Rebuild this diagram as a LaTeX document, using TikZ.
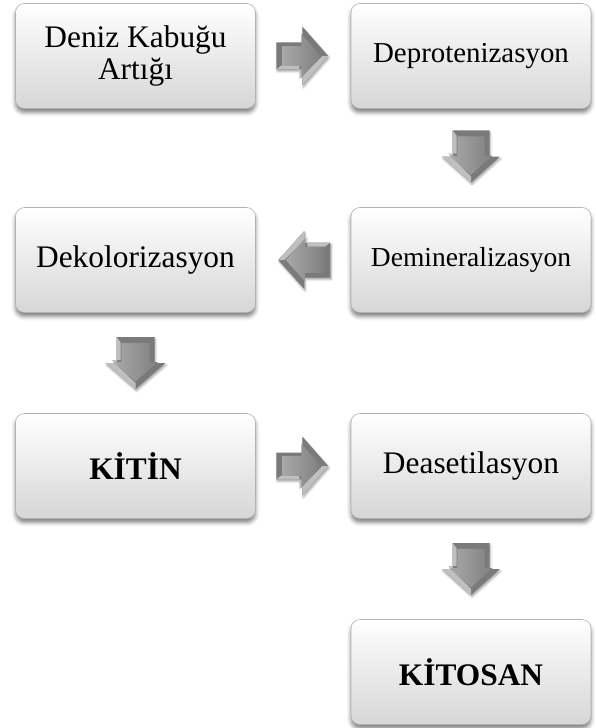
\documentclass[tikz,border=0pt]{standalone}
\usepackage{fontspec}
\setmainfont{Liberation Serif}
\usetikzlibrary{calc,shadows,shadows.blur}
\newcommand{\blockarr}[4]{%
  \begin{scope}[shift={#1}, rotate=#2]
    \fill[arrowout] (-26,-#3) -- (0,-#3) -- (0,-#4) -- (26,0) -- (0,#4) -- (0,#3) -- (-26,#3) -- cycle;
    \fill[arrowlight] (-26,#3) -- (0,#3) -- (0,#4) -- (26,0) -- (20,0) -- (-3,#4-6) -- (-3,#3-4) -- (-21,#3-4) -- cycle;
    \begin{scope}[xshift=-3bp, scale=0.74, xshift=3bp]
      \shade[arrowin] (-26,-#3) -- (0,-#3) -- (0,-#4) -- (26,0) -- (0,#4) -- (0,#3) -- (-26,#3) -- cycle;
    \end{scope}
  \end{scope}}
\begin{document}
\begin{tikzpicture}[x=1bp,y=-1bp,
  box/.style={draw=gray!60, line width=0.6bp, rounded corners=9bp,
    minimum width=240bp, minimum height=105bp,
    top color=white, bottom color=black!16, align=center, inner sep=0pt,
    font=\fontsize{31.5}{33}\selectfont,
    blur shadow={shadow xshift=0bp, shadow yshift=-4bp, shadow blur radius=4bp, shadow opacity=50}},
  arrowout/.style={fill=black!52, blur shadow={shadow xshift=1bp, shadow yshift=-2bp, shadow blur radius=2bp, shadow opacity=35}},
  arrowlight/.style={fill=black!25},
  arrowin/.style={left color=black!34, right color=black!50},
  ]
\useasboundingbox (0,0) rectangle (596,728);
\node[box] (n1) at (135.5,56) {Deniz Kabuğu\\Artığı};
\node[box] (n2) at (471,56) {\fontsize{29}{31}\selectfont Deprotenizasyon};
\node[box] (n3) at (471,260) {\fontsize{27.6}{30}\selectfont Demineralizasyon};
\node[box] (n4) at (135.5,260) {Dekolorizasyon};
\node[box] (n5) at (135.5,466) {\textbf{KİTİN}};
\node[box] (n6) at (471,466) {Deasetilasyon};
\node[box] (n7) at (471,672) {\textbf{KİTOSAN}};
\blockarr{($(n1.east)!0.5!(n2.west)+(-1,0)$)}{0}{13.5}{29.5}
\blockarr{($(n2.south)!0.5!(n3.north)+(0,-1.5)$)}{-90}{18.5}{29}
\blockarr{($(n3.west)!0.5!(n4.east)+(1,0)$)}{180}{17.5}{29}
\blockarr{($(n4.south)!0.5!(n5.north)$)}{-90}{19}{30}
\blockarr{($(n5.east)!0.5!(n6.west)+(-1,0)$)}{0}{13.5}{29.5}
\blockarr{($(n6.south)!0.5!(n7.north)$)}{-90}{18.5}{29}
\end{tikzpicture}
\end{document}
